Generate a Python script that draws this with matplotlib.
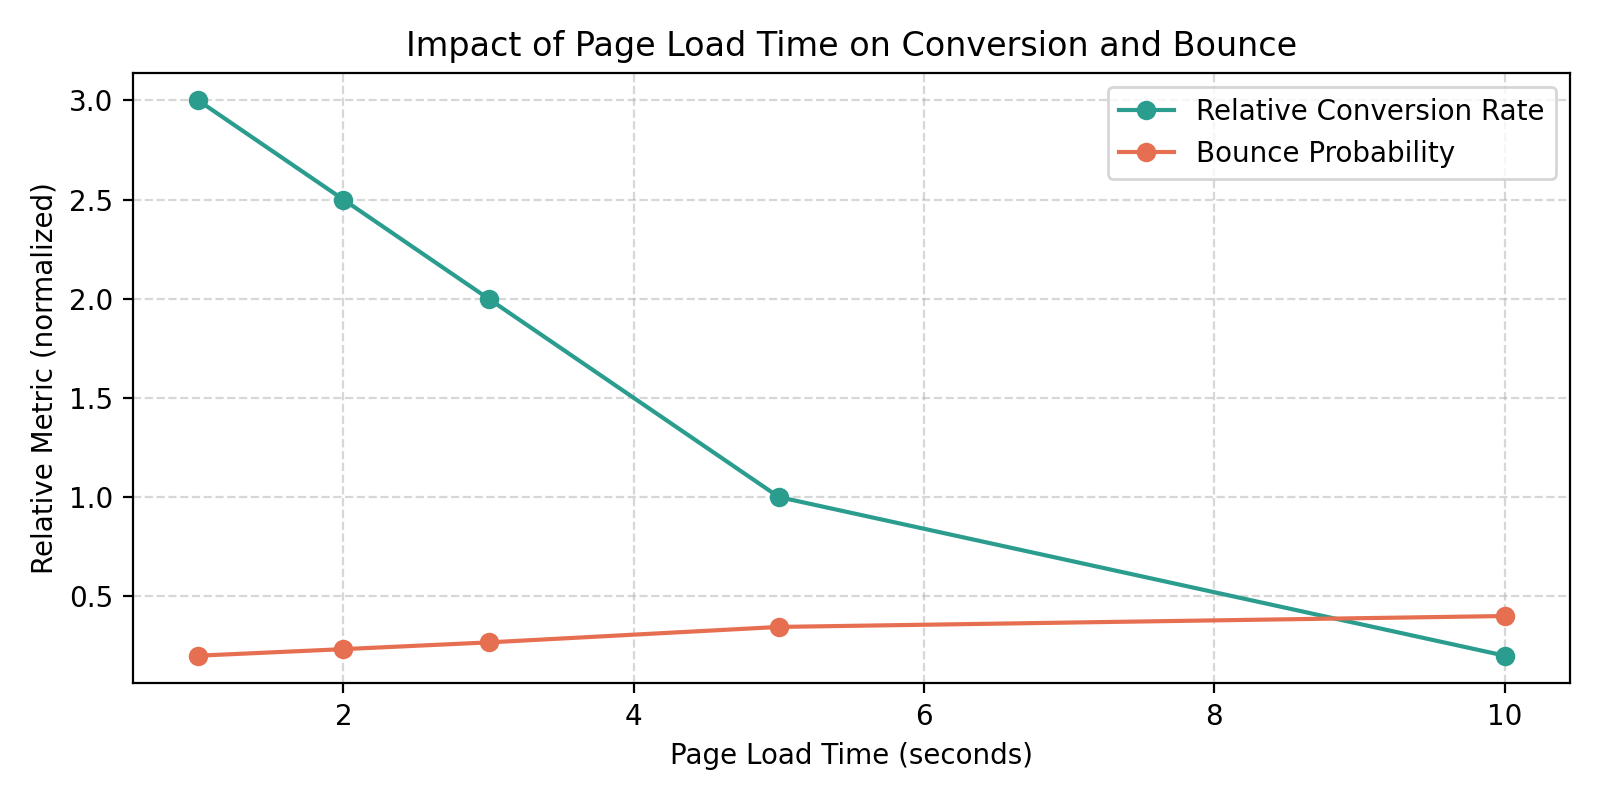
import matplotlib
matplotlib.use("Agg")
import matplotlib.pyplot as plt

load_time = [1, 2, 3, 5, 10]
conversion = [3.0, 2.5, 2.0, 1.0, 0.2]
bounce = [0.2, 0.233, 0.267, 0.345, 0.4]

fig, ax = plt.subplots(figsize=(8, 4), dpi=200)
ax.plot(load_time, conversion, marker='o', color='#2a9d8f', label='Relative Conversion Rate')
ax.plot(load_time, bounce, marker='o', color='#e76f51', label='Bounce Probability')
ax.set_title('Impact of Page Load Time on Conversion and Bounce')
ax.set_xlabel('Page Load Time (seconds)')
ax.set_ylabel('Relative Metric (normalized)')
ax.grid(True, linestyle='--', alpha=0.5)
ax.legend(loc='upper right')
fig.tight_layout()
fig.savefig('out.png')
